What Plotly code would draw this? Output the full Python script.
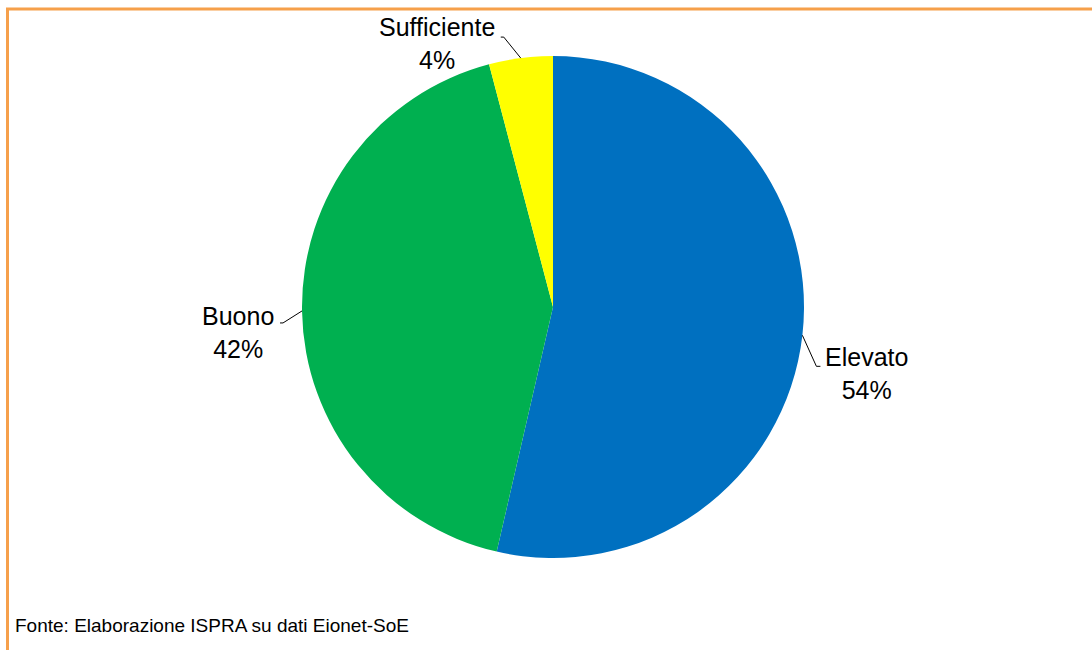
import math
import plotly.graph_objects as go

# Data
categories = ["Elevato", "Buono", "Sufficiente"]
values = [53.6, 42.3, 4.1]
colors = ["#0070C0", "#00B050", "#FFFF00"]
source_note = "Fonte: Elaborazione ISPRA su dati Eionet-SoE"

W, H = 1092, 650
CX, CY, R = 553, 307, 251  # pie centre and radius in pixels (layout)

def px(x):
    return x / W

def py(y):
    return 1 - y / H

fig = go.Figure(go.Pie(
    labels=categories,
    values=values,
    sort=False,
    direction="clockwise",
    rotation=0,
    marker=dict(colors=colors, line=dict(width=0)),
    textinfo="none",
    hoverinfo="skip",
    showlegend=False,
    domain=dict(x=[px(CX - R), px(CX + R)], y=[py(CY + R), py(CY - R)]),
))

# label layout styles: (elbow dx, elbow dy, tail dx, text centre dx, text centre dy) relative to arc point
label_style = {
    "Elevato": (14, 31, 4, 64, 38),
    "Buono": (-19, 12, -3, -64, 22),
    "Sufficiente": (-17, -21, -3, -84, -15),
}

total = sum(values)
pct = [round(v / total * 100) for v in values]
cum = 0.0
shapes = []
annotations = []
for cat, v, p in zip(categories, values, pct):
    mid = (cum + v / 2) / total * 2 * math.pi
    cum += v
    ax = CX + R * math.sin(mid)
    ay = CY - R * math.cos(mid)
    edx, edy, tdx, cdx, cdy = label_style[cat]
    ex, ey = ax + edx, ay + edy
    tx = ex + tdx
    shapes.append(dict(type="line", xref="paper", yref="paper",
                       x0=px(ax), y0=py(ay), x1=px(ex), y1=py(ey),
                       line=dict(color="#000000", width=1)))
    shapes.append(dict(type="line", xref="paper", yref="paper",
                       x0=px(ex), y0=py(ey), x1=px(tx), y1=py(ey),
                       line=dict(color="#000000", width=1)))
    annotations.append(dict(
        text=f"{cat}<br>{p}%", xref="paper", yref="paper",
        x=px(ax + cdx), y=py(ay + cdy), xanchor="center", yanchor="middle",
        showarrow=False, align="center",
        font=dict(family="Liberation Sans, Arial, sans-serif", size=25, color="#000000"),
    ))

# orange frame (top and left edges)
shapes.append(dict(type="line", xref="paper", yref="paper",
                   x0=px(6), y0=py(9), x1=1, y1=py(9),
                   line=dict(color="#F6A04B", width=3)))
shapes.append(dict(type="line", xref="paper", yref="paper",
                   x0=px(7.5), y0=py(8), x1=px(7.5), y1=0,
                   line=dict(color="#F6A04B", width=3)))

annotations.append(dict(
    text=source_note, xref="paper", yref="paper",
    x=px(13), y=py(625), xanchor="left", yanchor="middle", showarrow=False,
    font=dict(family="Liberation Sans, Arial, sans-serif", size=19, color="#000000"),
))

fig.update_layout(
    width=W, height=H,
    margin=dict(l=0, r=0, t=0, b=0),
    paper_bgcolor="white", plot_bgcolor="white",
    shapes=shapes, annotations=annotations,
)

fig.write_html("out.html")
